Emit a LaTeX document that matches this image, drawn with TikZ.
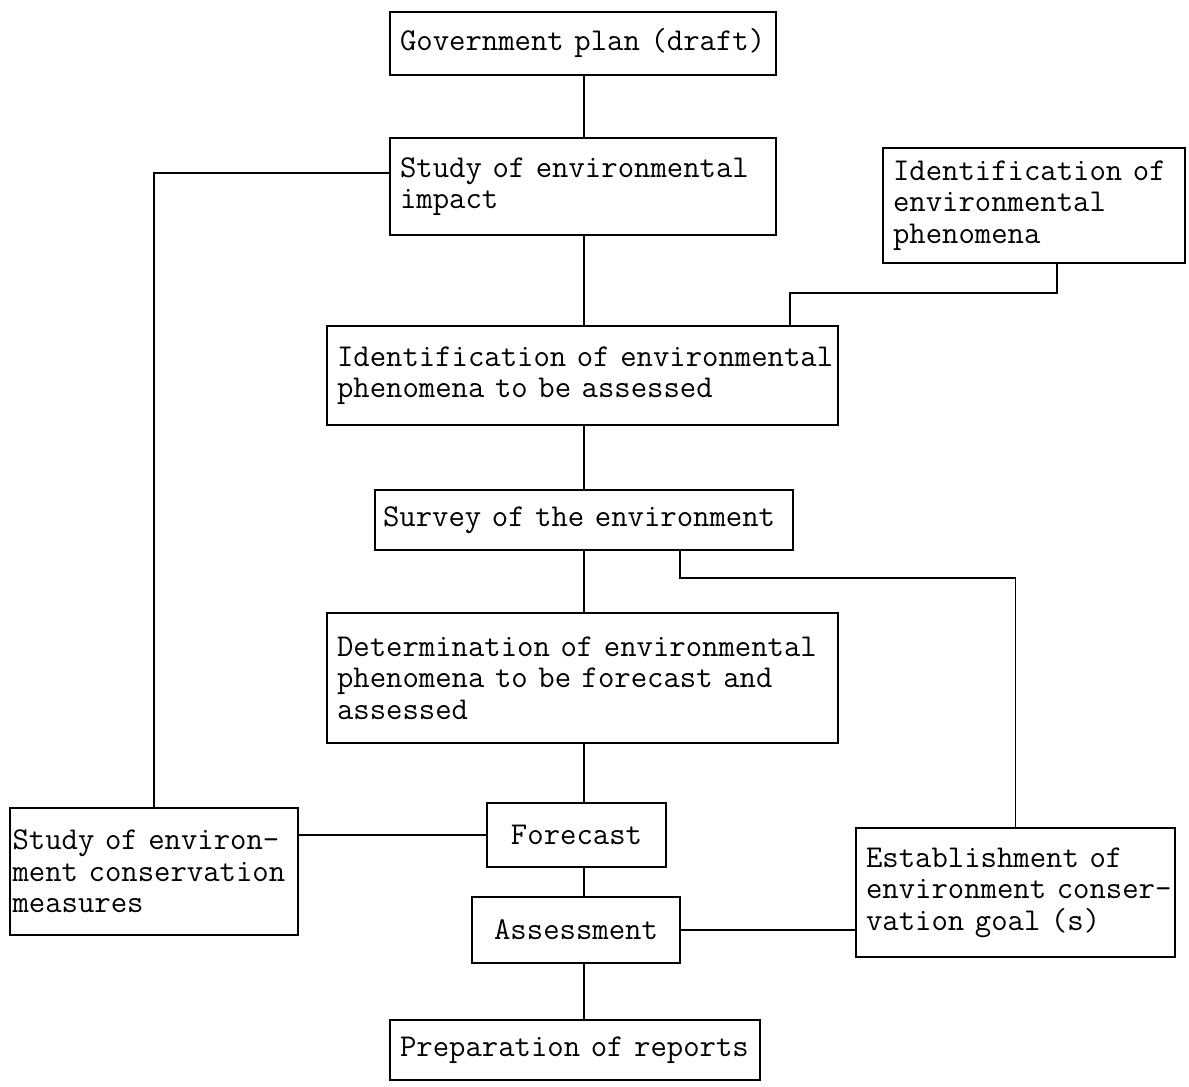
\documentclass[tikz,border=0pt]{standalone}
\usepackage{fontspec}
\usetikzlibrary{calc}

\begin{document}
\begin{tikzpicture}[x=0.02cm,y=-0.02cm,line width=1pt,
    box/.style={draw,font=\ttfamily\fontsize{18.1}{17.9}\selectfont,align=left,inner xsep=0.2cm,inner ysep=0.1cm},
    cbox/.style={box,align=center}]
  \useasboundingbox (0,0) rectangle (1189,1087);
  % Main column
  \node[box,text width=7.32cm,minimum height=1.26cm] (gov) at (583,43.5) {Government~plan~(draft)};
  \node[box,text width=7.32cm,minimum height=1.94cm] (impact) at (583,186.5) {Study of environmental\\impact};
  \node[box,text width=9.82cm,minimum height=1.98cm] (assessd) at (582.5,375.5) {Identification~of~environmental\\phenomena to be assessed};
  \node[box,inner xsep=0.16cm,text width=8.04cm,minimum height=1.2cm] (survey) at (584,520) {Survey~of~the~environment};
  \node[box,text width=9.82cm,minimum height=2.6cm] (determ) at (582.5,678) {Determination~of~environmental\\phenomena to be forecast and\\assessed};
  \node[cbox,minimum width=3.58cm,minimum height=1.28cm] (forecast) at (576.5,835) {Forecast};
  \node[cbox,minimum width=4.16cm,minimum height=1.32cm] (assess) at (576,930) {Assessment};
  \node[box,text width=7.0cm,minimum height=1.2cm] (reports) at (575,1050) {Preparation~of~reports};
  % Side boxes
  \node[box,text width=5.64cm,minimum height=2.3cm] (ident) at (1034,205.5) {Identification of\\environmental\\phenomena};
  \node[box,inner xsep=0.05cm,text width=5.66cm,minimum height=2.54cm] (measures) at (154,871.5) {Study~of~environ-\\ment~conservation\\measures};
  \node[box,text width=5.98cm,minimum height=2.58cm] (goal) at (1015.5,892.5) {Establishment of\\environment~conser-\\vation goal (s)};
  % Connectors
  \coordinate (spine) at (584,0);
  \coordinate (bendA) at (1057,293);
  \coordinate (bendB) at (790,0);
  \coordinate (bendC) at (680,578);
  \foreach \a/\b in {gov/impact,impact/assessd,assessd/survey,survey/determ,determ/forecast,forecast/assess,assess/reports}
    \draw (\a.south -| spine) -- (\b.north -| spine);
  \draw ([yshift=0.27cm]impact.west) -| (measures.north);
  \draw (ident.south -| bendA) -- (bendA) -| (assessd.north -| bendB);
  \draw (survey.south -| bendC) -- (bendC) -| (goal.north);
  \draw (forecast.west) -- (forecast.west -| measures.east);
  \draw (assess.east) -- (assess.east -| goal.west);
\end{tikzpicture}
\end{document}
